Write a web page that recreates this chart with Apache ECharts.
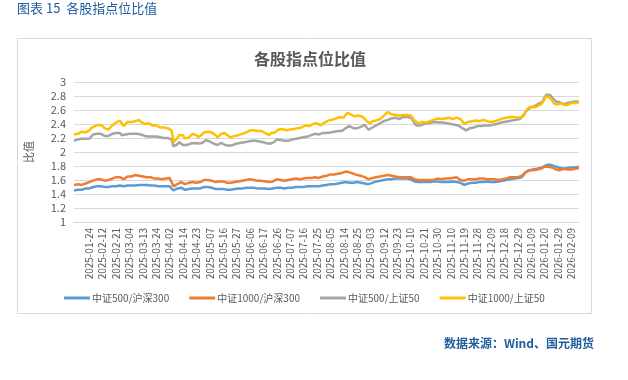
<!DOCTYPE html>
<html>
<head>
<meta charset="utf-8">
<script src="https://cdn.jsdelivr.net/npm/echarts@6/dist/echarts.min.js"></script>
<style>
html,body{margin:0;padding:0;background:#fff;}
#c{width:628px;height:380px;}
</style>
</head>
<body>
<div id="c"></div>
<script>
// Trading-day calendar (China A-share), 2025-01-14 .. 2026-02-13
const startDate = '2025-01-14';
const endDate = '2026-02-13';
const holidays = ['2025-01-28','2025-01-29','2025-01-30','2025-01-31','2025-02-03','2025-02-04',
  '2025-04-04','2025-05-01','2025-05-02','2025-05-05','2025-06-02',
  '2025-10-01','2025-10-02','2025-10-03','2025-10-06','2025-10-07','2025-10-08',
  '2026-01-01','2026-01-02'];
const firstLabelIndex = 8;   // 2025-01-24
const labelStep = 7;

const seriesNames = ['中证500/沪深300','中证1000/沪深300','中证500/上证50','中证1000/上证50'];
const seriesColors = ['#5B9BD5','#ED7D31','#A5A5A5','#FFC000'];

const zz500_hs300 = [
1.45,1.45,1.46,1.46,1.46,1.47,1.48,1.47,1.48,1.49,
1.50,1.50,1.51,1.51,1.51,1.51,1.50,1.50,1.50,1.51,
1.51,1.51,1.51,1.52,1.52,1.51,1.51,1.52,1.52,1.52,
1.52,1.52,1.52,1.52,1.53,1.53,1.53,1.53,1.53,1.53,
1.52,1.52,1.52,1.52,1.51,1.51,1.51,1.51,1.51,1.51,
1.51,1.50,1.45,1.46,1.48,1.49,1.49,1.47,1.46,1.47,
1.47,1.48,1.48,1.48,1.48,1.48,1.48,1.49,1.50,1.50,
1.50,1.49,1.49,1.48,1.47,1.47,1.47,1.48,1.47,1.47,
1.46,1.46,1.46,1.46,1.47,1.47,1.48,1.48,1.48,1.49,
1.49,1.49,1.49,1.49,1.49,1.48,1.48,1.49,1.48,1.48,
1.48,1.47,1.47,1.47,1.48,1.48,1.49,1.50,1.49,1.49,
1.48,1.49,1.49,1.49,1.49,1.50,1.50,1.50,1.50,1.50,
1.50,1.50,1.51,1.51,1.51,1.51,1.51,1.51,1.51,1.52,
1.52,1.53,1.53,1.53,1.54,1.54,1.54,1.55,1.55,1.55,
1.56,1.56,1.57,1.57,1.56,1.56,1.56,1.56,1.57,1.56,
1.56,1.56,1.55,1.54,1.54,1.55,1.56,1.57,1.58,1.58,
1.59,1.60,1.60,1.61,1.61,1.61,1.61,1.62,1.62,1.62,
1.62,1.62,1.62,1.63,1.62,1.62,1.61,1.60,1.58,1.57,
1.57,1.56,1.57,1.57,1.57,1.57,1.57,1.58,1.58,1.58,
1.58,1.57,1.57,1.57,1.57,1.57,1.57,1.58,1.58,1.57,
1.57,1.57,1.56,1.55,1.53,1.54,1.55,1.56,1.56,1.56,
1.56,1.56,1.57,1.57,1.57,1.57,1.58,1.57,1.57,1.57,
1.57,1.58,1.58,1.59,1.59,1.60,1.60,1.60,1.61,1.61,
1.62,1.62,1.63,1.63,1.64,1.67,1.71,1.73,1.74,1.75,
1.75,1.75,1.76,1.76,1.77,1.79,1.80,1.82,1.82,1.82,
1.81,1.80,1.79,1.78,1.77,1.77,1.76,1.77,1.77,1.78,
1.78,1.79,1.78,1.79,1.79];

const zz1000_hs300 = [
1.53,1.53,1.54,1.54,1.53,1.54,1.55,1.55,1.57,1.58,
1.59,1.60,1.61,1.61,1.61,1.60,1.59,1.58,1.60,1.61,
1.62,1.63,1.64,1.64,1.64,1.62,1.61,1.63,1.65,1.65,
1.65,1.66,1.67,1.67,1.66,1.65,1.65,1.64,1.64,1.64,
1.64,1.63,1.62,1.62,1.62,1.61,1.61,1.62,1.62,1.62,
1.63,1.62,1.51,1.52,1.54,1.56,1.57,1.55,1.54,1.55,
1.56,1.57,1.57,1.57,1.56,1.55,1.57,1.59,1.60,1.60,
1.60,1.60,1.59,1.58,1.57,1.57,1.58,1.59,1.58,1.56,
1.56,1.55,1.56,1.56,1.57,1.58,1.58,1.59,1.59,1.60,
1.60,1.60,1.61,1.60,1.60,1.59,1.59,1.60,1.59,1.59,
1.58,1.57,1.57,1.57,1.58,1.59,1.61,1.61,1.60,1.60,
1.59,1.60,1.60,1.60,1.61,1.61,1.62,1.62,1.61,1.62,
1.62,1.62,1.63,1.63,1.63,1.64,1.64,1.63,1.63,1.64,
1.65,1.65,1.66,1.67,1.68,1.68,1.68,1.69,1.69,1.69,
1.70,1.71,1.72,1.72,1.71,1.70,1.69,1.68,1.67,1.67,
1.66,1.65,1.64,1.63,1.61,1.62,1.63,1.63,1.64,1.64,
1.65,1.65,1.66,1.66,1.67,1.66,1.66,1.65,1.65,1.64,
1.64,1.64,1.64,1.64,1.64,1.64,1.64,1.63,1.61,1.60,
1.60,1.59,1.60,1.60,1.60,1.60,1.60,1.59,1.60,1.61,
1.62,1.62,1.61,1.61,1.62,1.62,1.62,1.62,1.63,1.63,
1.64,1.62,1.60,1.60,1.59,1.60,1.61,1.61,1.61,1.60,
1.61,1.61,1.62,1.62,1.62,1.61,1.61,1.62,1.61,1.61,
1.61,1.61,1.60,1.61,1.61,1.62,1.62,1.63,1.64,1.64,
1.64,1.64,1.64,1.65,1.66,1.68,1.71,1.73,1.74,1.74,
1.74,1.75,1.75,1.75,1.76,1.77,1.79,1.80,1.79,1.79,
1.78,1.76,1.75,1.74,1.74,1.75,1.76,1.75,1.75,1.75,
1.75,1.76,1.76,1.77,1.77];

const zz500_sz50 = [
2.16,2.17,2.18,2.19,2.19,2.20,2.19,2.17,2.19,2.22,
2.25,2.25,2.26,2.26,2.26,2.26,2.23,2.21,2.23,2.25,
2.26,2.26,2.27,2.27,2.27,2.24,2.22,2.25,2.27,2.26,
2.26,2.26,2.25,2.26,2.26,2.25,2.24,2.23,2.23,2.22,
2.23,2.22,2.22,2.22,2.21,2.21,2.21,2.20,2.20,2.20,
2.19,2.18,2.08,2.07,2.11,2.14,2.13,2.10,2.08,2.10,
2.11,2.12,2.13,2.13,2.13,2.12,2.12,2.13,2.15,2.17,
2.16,2.15,2.14,2.12,2.10,2.10,2.12,2.13,2.12,2.10,
2.10,2.09,2.09,2.10,2.11,2.12,2.12,2.13,2.14,2.14,
2.15,2.15,2.16,2.16,2.16,2.16,2.16,2.15,2.15,2.14,
2.13,2.12,2.11,2.12,2.13,2.15,2.18,2.19,2.17,2.16,
2.16,2.16,2.16,2.17,2.18,2.19,2.19,2.20,2.20,2.20,
2.21,2.21,2.22,2.23,2.24,2.25,2.26,2.25,2.25,2.26,
2.27,2.27,2.27,2.28,2.28,2.28,2.29,2.29,2.30,2.29,
2.30,2.32,2.34,2.36,2.37,2.35,2.34,2.33,2.34,2.35,
2.36,2.37,2.39,2.35,2.32,2.34,2.35,2.37,2.38,2.40,
2.41,2.43,2.44,2.46,2.46,2.47,2.48,2.48,2.49,2.48,
2.47,2.48,2.50,2.51,2.50,2.50,2.49,2.46,2.41,2.38,
2.37,2.38,2.39,2.40,2.40,2.41,2.41,2.42,2.43,2.43,
2.43,2.42,2.42,2.42,2.42,2.41,2.41,2.40,2.40,2.39,
2.38,2.38,2.36,2.34,2.32,2.31,2.33,2.34,2.35,2.35,
2.36,2.37,2.37,2.37,2.38,2.38,2.37,2.38,2.39,2.39,
2.40,2.40,2.41,2.42,2.42,2.43,2.44,2.44,2.45,2.45,
2.45,2.46,2.46,2.47,2.48,2.52,2.57,2.60,2.62,2.64,
2.65,2.66,2.68,2.69,2.70,2.72,2.78,2.82,2.80,2.81,
2.79,2.75,2.72,2.71,2.71,2.69,2.68,2.70,2.70,2.70,
2.71,2.71,2.72,2.72,2.72];

const zz1000_sz50 = [
2.25,2.24,2.26,2.27,2.29,2.30,2.28,2.27,2.31,2.34,
2.36,2.37,2.38,2.39,2.39,2.37,2.34,2.33,2.32,2.35,
2.38,2.40,2.42,2.44,2.45,2.41,2.37,2.40,2.43,2.42,
2.43,2.44,2.44,2.45,2.46,2.43,2.41,2.40,2.39,2.41,
2.41,2.38,2.37,2.38,2.36,2.35,2.34,2.35,2.35,2.34,
2.33,2.31,2.14,2.15,2.20,2.24,2.26,2.24,2.19,2.19,
2.21,2.23,2.26,2.25,2.24,2.21,2.22,2.25,2.28,2.30,
2.29,2.29,2.28,2.27,2.24,2.21,2.23,2.26,2.25,2.27,
2.24,2.22,2.21,2.21,2.23,2.24,2.24,2.25,2.26,2.27,
2.28,2.30,2.31,2.32,2.31,2.31,2.30,2.31,2.30,2.29,
2.27,2.25,2.24,2.27,2.28,2.28,2.30,2.32,2.34,2.33,
2.33,2.31,2.30,2.32,2.33,2.33,2.34,2.34,2.35,2.35,
2.37,2.38,2.37,2.37,2.39,2.40,2.40,2.41,2.40,2.38,
2.40,2.42,2.43,2.45,2.46,2.46,2.47,2.48,2.49,2.50,
2.49,2.49,2.53,2.56,2.57,2.53,2.52,2.51,2.51,2.52,
2.52,2.50,2.47,2.44,2.42,2.41,2.44,2.46,2.45,2.45,
2.47,2.49,2.52,2.54,2.57,2.56,2.54,2.54,2.53,2.53,
2.52,2.52,2.53,2.54,2.53,2.53,2.52,2.49,2.45,2.43,
2.41,2.42,2.43,2.43,2.42,2.42,2.44,2.45,2.46,2.47,
2.48,2.48,2.47,2.47,2.48,2.49,2.49,2.48,2.47,2.48,
2.49,2.49,2.47,2.44,2.40,2.42,2.43,2.44,2.44,2.45,
2.45,2.44,2.44,2.45,2.46,2.46,2.44,2.43,2.43,2.44,
2.44,2.45,2.46,2.47,2.48,2.49,2.49,2.50,2.50,2.50,
2.50,2.50,2.49,2.50,2.50,2.53,2.57,2.61,2.64,2.65,
2.64,2.63,2.65,2.67,2.68,2.71,2.76,2.80,2.78,2.77,
2.73,2.69,2.69,2.68,2.69,2.70,2.67,2.66,2.67,2.68,
2.70,2.71,2.70,2.71,2.71];

const yTicks = {min: 1, max: 3, interval: 0.2};

// build category list
function pad(n){return n<10?'0'+n:''+n;}
function buildDates(){
  const out=[]; const hol=new Set(holidays);
  const d=new Date(startDate+'T00:00:00Z'); const e=new Date(endDate+'T00:00:00Z');
  while(d<=e){
    const s=d.getUTCFullYear()+'-'+pad(d.getUTCMonth()+1)+'-'+pad(d.getUTCDate());
    const w=d.getUTCDay();
    if(w!==0&&w!==6&&!hol.has(s)) out.push(s);
    d.setUTCDate(d.getUTCDate()+1);
  }
  return out;
}
const dates = buildDates();
const seriesData = [zz500_hs300, zz1000_hs300, zz500_sz50, zz1000_sz50];

const FONT = '"Noto Sans CJK SC", "Noto Sans", sans-serif';
const chart = echarts.init(document.getElementById('c'), null, {renderer:'canvas'});
chart.setOption({
  animation:false,
  backgroundColor:'#fff',
  textStyle:{fontFamily:FONT},
  graphic:[
    {type:'rect', shape:{x:17.5,y:38.5,width:574,height:275}, style:{fill:'none',stroke:'#D9D9D9',lineWidth:1}},
    {type:'text', left:17, top:2, style:{text:'图表 15  各股指点位比值', fill:'#1F5C9E', font:'13px '+FONT}},
    {type:'text', right:34, top:337, style:{text:'数据来源：Wind、国元期货', fill:'#1F5C9E', font:'bold 12px '+FONT}}
  ],
  title:{text:'各股指点位比值', left:305, textAlign:'center', top:46,
    textStyle:{fontSize:16, fontWeight:'bold', color:'#595959', fontFamily:FONT}},
  legend:{left:59, top:288, itemWidth:26, itemHeight:3, itemGap:20, icon:'rect',
    textStyle:{fontSize:10, color:'#595959', fontFamily:FONT, padding:[0,0,0,-3]},
    data:seriesNames},
  grid:{left:74, right:49, top:82, bottom:158, containLabel:false},
  xAxis:{type:'category', data:dates, boundaryGap:false,
    axisLine:{show:true, lineStyle:{color:'#D9D9D9'}},
    axisTick:{show:false},
    axisLabel:{rotate:90, fontSize:10, color:'#595959', margin:6, fontFamily:FONT,
      interval:function(i){return i>=firstLabelIndex && (i-firstLabelIndex)%labelStep===0;}}},
  yAxis:{type:'value', min:yTicks.min, max:yTicks.max, interval:yTicks.interval,
    name:'比值', nameLocation:'middle', nameGap:40, nameRotate:90,
    nameTextStyle:{fontSize:11, color:'#595959', fontFamily:FONT},
    axisLine:{show:false}, axisTick:{show:false},
    axisLabel:{fontSize:11, color:'#595959', margin:8, fontFamily:FONT,
      formatter:function(v){return String(Math.round(v*10)/10);}},
    splitLine:{lineStyle:{color:'#D9D9D9', width:1}}},
  series: seriesNames.map(function(n,k){
    return {name:n, type:'line', data:seriesData[k], symbol:'none', smooth:false,
      lineStyle:{width:2.5, color:seriesColors[k]}, itemStyle:{color:seriesColors[k]}};
  })
});
</script>
</body>
</html>
